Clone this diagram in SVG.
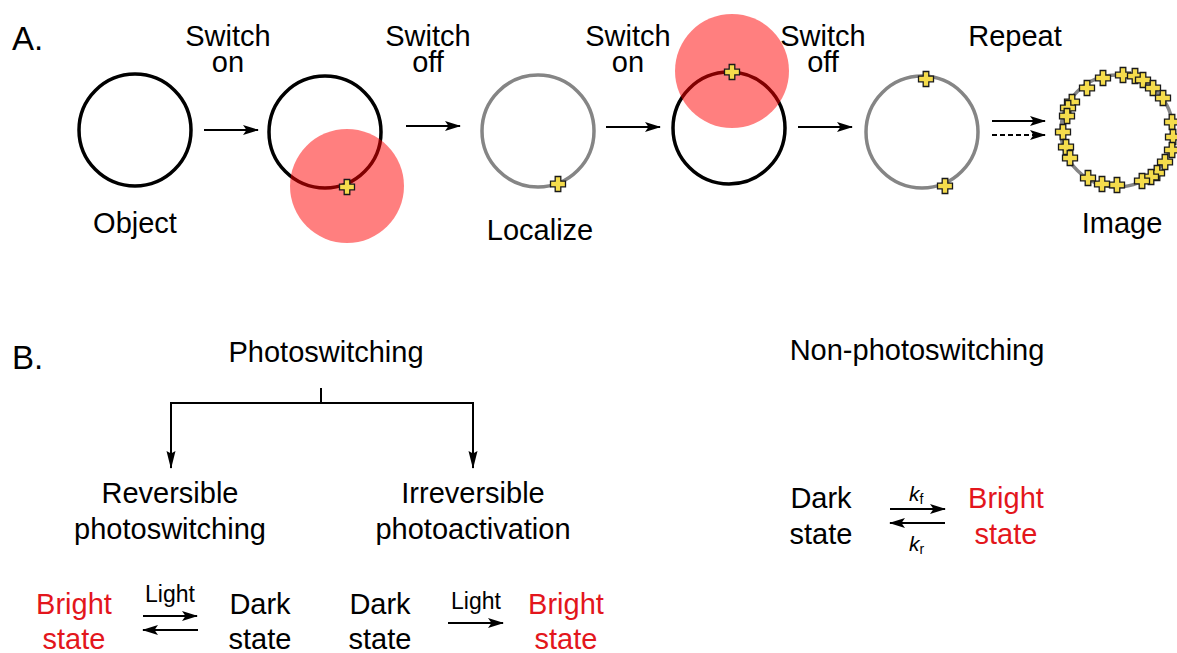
<svg xmlns="http://www.w3.org/2000/svg" xmlns:xlink="http://www.w3.org/1999/xlink" width="1177" height="653" viewBox="0 0 1177 653">
  <style>
    .t { font-family: "Liberation Sans", Arial, Helvetica, sans-serif; font-size: 29px; fill: #000; }
    .m { text-anchor: middle; }
    .hd { font-size: 33px; }
    .sm { font-size: 23px; }
    .red { fill: #e3161c; }
    .k { font-size: 21px; font-style: italic; }
    .sub { font-size: 14px; font-style: normal; }
    .ring { fill: none; stroke: #000; stroke-width: 3.5; }
    .ring.gray { stroke: #858585; }
    .spot { fill: #ff0000; fill-opacity: 0.5; }
    .ln { fill: none; stroke: #000; stroke-width: 2; }
    .dash { stroke-dasharray: 5 3; }
  </style>
  <defs>
    <marker id="ah" markerUnits="userSpaceOnUse" markerWidth="16" markerHeight="12" refX="15" refY="6" orient="auto">
      <path d="M0,1 L16,6 L0,11 L3.5,6 z" fill="#000"/>
    </marker>
    <marker id="ahd" markerUnits="userSpaceOnUse" markerWidth="18" markerHeight="10" refX="17" refY="5" orient="auto">
      <path d="M0,0.5 L18,5 L0,9.5 L2.5,5 z" fill="#000"/>
    </marker>
    <path id="plus" d="M-2.8,-7.5 H2.8 V-2.8 H7.5 V2.8 H2.8 V7.5 H-2.8 V2.8 H-7.5 V-2.8 H-2.8 z" fill="#f5dc4c" stroke="#1a1a1a" stroke-width="1.3" stroke-linejoin="miter"/>
  </defs>

  <!-- Panel A -->
  <text class="t hd" x="12" y="50">A.</text>

  <g id="step-object">
    <circle class="ring" cx="135" cy="130" r="56"/>
    <text class="t m" x="135" y="233">Object</text>
  </g>

  <g id="step-switch-on-1">
    <text class="t m" x="228" y="46">Switch<tspan x="228" dy="26">on</tspan></text>
    <circle class="ring" cx="325" cy="132" r="56"/>
    <circle class="spot" cx="347" cy="186" r="57"/>
    <use xlink:href="#plus" x="347" y="187"/>
  </g>

  <g id="step-localize">
    <text class="t m" x="428" y="46">Switch<tspan x="428" dy="26">off</tspan></text>
    <circle class="ring gray" cx="538" cy="131" r="56"/>
    <use xlink:href="#plus" x="558" y="184"/>
    <text class="t m" x="540" y="240">Localize</text>
  </g>

  <g id="step-switch-on-2">
    <text class="t m" x="628" y="46">Switch<tspan x="628" dy="26">on</tspan></text>
    <circle class="ring" cx="729" cy="128" r="56"/>
    <circle class="spot" cx="732" cy="71" r="57"/>
    <use xlink:href="#plus" x="732" y="72"/>
  </g>

  <g id="step-switch-off-2">
    <text class="t m" x="823" y="46">Switch<tspan x="823" dy="26">off</tspan></text>
    <circle class="ring gray" cx="922" cy="132" r="56"/>
    <use xlink:href="#plus" x="926" y="79"/>
    <use xlink:href="#plus" x="945" y="186"/>
  </g>

  <g id="step-image">
    <text class="t m" x="1015" y="46">Repeat</text>
    <circle class="ring gray" cx="1117" cy="131" r="56"/>
    <use xlink:href="#plus" x="1087" y="88"/>
    <use xlink:href="#plus" x="1103" y="78"/>
    <use xlink:href="#plus" x="1123" y="75"/>
    <use xlink:href="#plus" x="1135" y="76"/>
    <use xlink:href="#plus" x="1143" y="80"/>
    <use xlink:href="#plus" x="1153" y="88"/>
    <use xlink:href="#plus" x="1163" y="98"/>
    <use xlink:href="#plus" x="1072" y="102"/>
    <use xlink:href="#plus" x="1068" y="108"/>
    <use xlink:href="#plus" x="1067" y="116"/>
    <use xlink:href="#plus" x="1063" y="132"/>
    <use xlink:href="#plus" x="1066" y="147"/>
    <use xlink:href="#plus" x="1070" y="158"/>
    <use xlink:href="#plus" x="1172" y="122"/>
    <use xlink:href="#plus" x="1173" y="137"/>
    <use xlink:href="#plus" x="1172" y="150"/>
    <use xlink:href="#plus" x="1165" y="162"/>
    <use xlink:href="#plus" x="1157" y="173"/>
    <use xlink:href="#plus" x="1151" y="177"/>
    <use xlink:href="#plus" x="1142" y="181"/>
    <use xlink:href="#plus" x="1117" y="185"/>
    <use xlink:href="#plus" x="1102" y="184"/>
    <use xlink:href="#plus" x="1088" y="178"/>
    <text class="t m" x="1122" y="233">Image</text>
  </g>

  <!-- Panel B -->
  <text class="t hd" x="12" y="369">B.</text>

  <g id="photoswitching">
    <text class="t m" x="326" y="362">Photoswitching</text>
  </g>
  <g id="reversible">
    <text class="t m" x="170" y="503">Reversible</text>
    <text class="t m" x="170" y="539">photoswitching</text>
  </g>
  <g id="irreversible">
    <text class="t m" x="473" y="503">Irreversible</text>
    <text class="t m" x="473" y="539">photoactivation</text>
  </g>
  <g id="non-photoswitching">
    <text class="t m" x="917" y="360">Non-photoswitching</text>
  </g>

  <g id="rev-bright">
    <text class="t m red" x="74" y="614">Bright</text>
    <text class="t m red" x="74" y="649">state</text>
  </g>
  <g id="rev-dark">
    <text class="t m" x="260" y="614">Dark</text>
    <text class="t m" x="260" y="649">state</text>
  </g>
  <text class="t m sm" x="170" y="602">Light</text>

  <g id="irr-dark">
    <text class="t m" x="380" y="614">Dark</text>
    <text class="t m" x="380" y="649">state</text>
  </g>
  <g id="irr-bright">
    <text class="t m red" x="566" y="614">Bright</text>
    <text class="t m red" x="566" y="649">state</text>
  </g>
  <text class="t m sm" x="476" y="609">Light</text>

  <g id="np-dark">
    <text class="t m" x="821" y="508">Dark</text>
    <text class="t m" x="821" y="544">state</text>
  </g>
  <g id="np-bright">
    <text class="t m red" x="1006" y="508">Bright</text>
    <text class="t m red" x="1006" y="544">state</text>
  </g>
  <text class="t k" x="909" y="501">k<tspan class="sub" dy="3">f</tspan></text>
  <text class="t k" x="909" y="551">k<tspan class="sub" dy="3">r</tspan></text>

  <!-- connectors -->
  <g id="connectors">
    <line class="ln" x1="204" y1="130" x2="258" y2="130" marker-end="url(#ah)"/>
    <line class="ln" x1="406" y1="126" x2="460" y2="126" marker-end="url(#ah)"/>
    <line class="ln" x1="606" y1="127" x2="660" y2="127" marker-end="url(#ah)"/>
    <line class="ln" x1="798" y1="127" x2="852" y2="127" marker-end="url(#ah)"/>
    <line class="ln" x1="992" y1="121" x2="1045" y2="121" marker-end="url(#ah)"/>
    <line class="ln dash" x1="992" y1="135" x2="1045" y2="135" marker-end="url(#ah)"/>

    <path class="ln" d="M321,388 V403 M171,403 H473"/>
    <line class="ln" x1="171" y1="402" x2="171" y2="468" marker-end="url(#ahd)"/>
    <line class="ln" x1="473" y1="402" x2="473" y2="468" marker-end="url(#ahd)"/>

    <line class="ln" x1="143" y1="616" x2="197" y2="616" marker-end="url(#ah)"/>
    <line class="ln" x1="198" y1="630" x2="143" y2="630" marker-end="url(#ah)"/>
    <line class="ln" x1="448" y1="623" x2="503" y2="623" marker-end="url(#ah)"/>
    <line class="ln" x1="890" y1="509" x2="945" y2="509" marker-end="url(#ah)"/>
    <line class="ln" x1="945" y1="523" x2="890" y2="523" marker-end="url(#ah)"/>
  </g>
</svg>
